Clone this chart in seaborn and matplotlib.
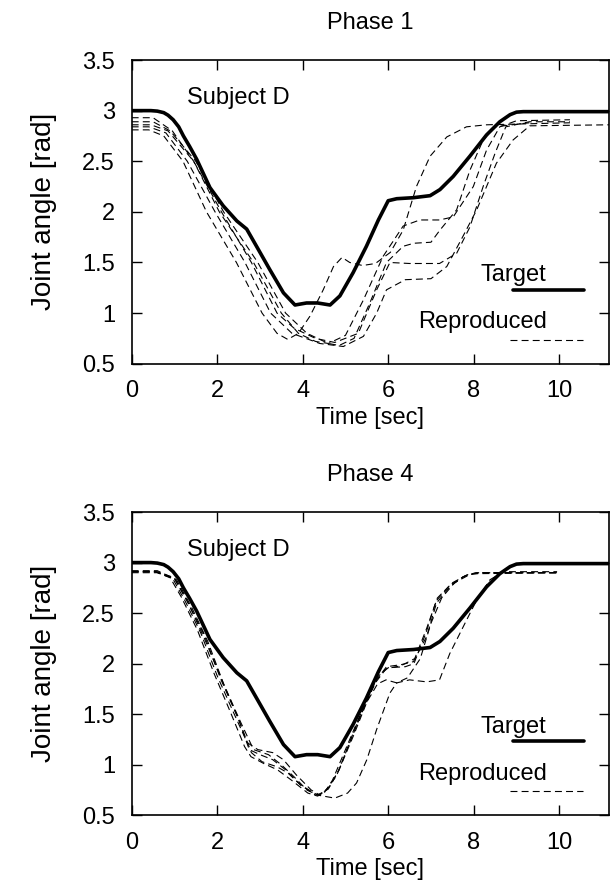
import numpy as np
import pandas as pd
import matplotlib
matplotlib.use("Agg")
import matplotlib.pyplot as plt
import seaborn as sns

# ---------------- data ----------------
target_t = [0, 0.45, 0.6, 0.75, 0.85, 0.97, 1.1, 1.21, 1.35, 1.52, 1.83, 2.14, 2.46, 2.69,
            2.92, 3.23, 3.55, 3.82, 4.09, 4.35, 4.64, 4.87, 5.18, 5.49, 5.77, 6.0, 6.2,
            6.59, 6.98, 7.21, 7.52, 7.91, 8.3, 8.61, 8.85, 9.0, 9.16, 11.17]
target_y = [3.0, 3.0, 2.995, 2.98, 2.955, 2.91, 2.84, 2.75, 2.65, 2.52, 2.24, 2.06, 1.91,
            1.83, 1.66, 1.43, 1.20, 1.08, 1.10, 1.10, 1.08, 1.17, 1.40, 1.66, 1.92, 2.11,
            2.13, 2.14, 2.16, 2.22, 2.35, 2.55, 2.76, 2.89, 2.96, 2.985, 2.99, 2.99]

# Phase 1 reproduced trials
p1_a_t = [0, 0.4, 0.75, 1.2, 1.75, 2.45, 3.05, 3.4, 3.65, 3.9, 4.17, 4.48, 4.72, 4.92, 5.1,
          5.4, 5.7, 6.05, 6.35, 6.66, 6.98, 7.37, 7.83, 8.3, 10.25]
p1_a_y = [2.81, 2.81, 2.75, 2.5, 2.0, 1.5, 1.0, 0.8, 0.74, 0.8, 0.97, 1.23, 1.46, 1.55, 1.50,
          1.47, 1.49, 1.60, 1.82, 2.25, 2.55, 2.74, 2.84, 2.86, 2.88]
p1_b_t = [0, 0.5, 0.95, 1.45, 2.05, 2.85, 3.5, 3.9, 4.3, 4.6, 5.0, 5.42, 5.88, 6.35, 6.74,
          7.2, 7.52, 7.99, 8.3, 8.61, 9.0, 10.25]
p1_b_y = [2.93, 2.93, 2.8, 2.5, 2.0, 1.5, 1.0, 0.8, 0.72, 0.70, 0.78, 1.13, 1.56, 1.86, 1.92,
          1.92, 1.95, 2.25, 2.61, 2.84, 2.90, 2.91]
p1_c_t = [0, 0.5, 0.9, 1.5, 2.15, 2.95, 3.6, 4.1, 4.6, 4.85, 5.2, 5.57, 5.96, 6.35, 6.6,
          7.0, 7.21, 7.6, 7.91, 8.22, 8.5, 9.3]
p1_c_y = [2.89, 2.89, 2.8, 2.5, 2.0, 1.5, 1.0, 0.8, 0.70, 0.68, 0.75, 1.10, 1.50, 1.66, 1.69,
          1.70, 1.82, 2.02, 2.41, 2.71, 2.84, 2.88]
p1_d_t = [0, 0.45, 0.85, 1.45, 2.1, 2.8, 3.4, 3.8, 4.3, 4.75, 5.3, 5.73, 6.04, 6.5, 7.2,
          7.6, 7.91, 8.22, 8.5, 8.75, 9.3, 10.25]
p1_d_y = [2.86, 2.86, 2.8, 2.5, 2.0, 1.5, 1.0, 0.85, 0.75, 0.71, 0.8, 1.23, 1.50, 1.49, 1.49,
          1.59, 1.85, 2.25, 2.58, 2.84, 2.89, 2.89]
p1_e_t = [0, 0.4, 0.8, 1.3, 1.95, 2.65, 3.25, 3.75, 4.4, 4.95, 5.42, 5.73, 5.96, 6.4, 7.0,
          7.37, 7.75, 8.07, 8.53, 8.92, 9.31, 11.17]
p1_e_y = [2.84, 2.84, 2.78, 2.5, 2.0, 1.5, 1.0, 0.8, 0.70, 0.67, 0.77, 1.0, 1.23, 1.33, 1.34,
          1.46, 1.76, 2.02, 2.48, 2.71, 2.85, 2.86]

# Phase 4 reproduced trials
p4_a_t = [0, 0.55, 0.9, 1.16, 1.54, 1.93, 2.32, 2.64, 2.79, 3.1, 3.41, 3.73, 4.12, 4.35,
          4.55, 4.79, 5.1, 5.42, 5.73, 5.96, 6.3, 6.59, 6.9, 7.13, 7.44, 7.75, 7.99, 9.95]
p4_a_y = [2.91, 2.91, 2.85, 2.66, 2.33, 1.90, 1.51, 1.18, 1.08, 1.01, 0.95, 0.85, 0.72, 0.69,
          0.75, 0.89, 1.22, 1.55, 1.84, 1.97, 1.99, 2.02, 2.27, 2.6, 2.76, 2.86, 2.89, 2.90]
p4_b_t = [0, 0.55, 0.95, 1.25, 1.62, 2.0, 2.4, 2.7, 2.95, 3.3, 3.55, 3.85, 4.2, 4.4, 4.62,
          4.85, 5.15, 5.45, 5.75, 6.0, 6.4, 6.6, 6.88, 7.12, 7.45, 7.8, 8.05, 9.95]
p4_b_y = [2.91, 2.91, 2.85, 2.62, 2.30, 1.88, 1.50, 1.22, 1.15, 1.12, 1.05, 0.90, 0.75, 0.70,
          0.78, 0.95, 1.28, 1.6, 1.87, 1.96, 1.97, 2.0, 2.3, 2.62, 2.78, 2.87, 2.9, 2.90]
p4_c_t = [0, 0.6, 1.0, 1.32, 1.7, 2.08, 2.5, 2.8, 3.05, 3.4, 3.65, 3.95, 4.3, 4.5, 4.7, 5.0,
          5.35, 5.68, 5.95, 6.3, 6.62, 6.9, 7.15, 7.5, 7.85, 8.1, 9.95]
p4_c_y = [2.92, 2.92, 2.84, 2.60, 2.28, 1.85, 1.45, 1.12, 1.03, 0.98, 0.92, 0.80, 0.70, 0.72,
          0.85, 1.15, 1.50, 1.80, 1.95, 1.98, 2.05, 2.35, 2.65, 2.8, 2.88, 2.9, 2.90]
p4_d_t = [0, 0.6, 1.05, 1.4, 1.78, 2.15, 2.55, 2.85, 3.2, 3.5, 3.8, 4.1, 4.35, 4.6, 4.85,
          5.2, 5.5, 5.75, 5.95, 6.2, 6.45, 6.75, 7.0, 7.25, 7.55, 7.9, 8.2, 9.95]
p4_d_y = [2.90, 2.90, 2.83, 2.56, 2.22, 1.80, 1.42, 1.15, 1.10, 1.00, 0.88, 0.75, 0.70, 0.76,
          0.95, 1.3, 1.62, 1.80, 1.84, 1.81, 1.86, 2.05, 2.4, 2.65, 2.8, 2.88, 2.9, 2.90]
p4_e_t = [0, 0.6, 1.0, 1.3, 1.7, 2.1, 2.5, 2.75, 3.0, 3.3, 3.6, 3.95, 4.35, 4.75, 5.05, 5.26,
          5.5, 5.73, 6.04, 6.2, 6.5, 6.9, 7.2, 7.44, 7.76, 8.07, 8.38, 8.69, 9.95]
p4_e_y = [2.91, 2.91, 2.85, 2.62, 2.25, 1.85, 1.45, 1.15, 1.10, 1.05, 0.95, 0.80, 0.70, 0.67,
          0.72, 0.82, 1.05, 1.35, 1.71, 1.81, 1.84, 1.82, 1.84, 2.10, 2.37, 2.63, 2.83, 2.91, 2.91]

phase_titles = ["Phase 1", "Phase 4"]
subject_label = "Subject D"
x_ticks = [0, 2, 4, 6, 8, 10]
y_ticks = [0.5, 1, 1.5, 2, 2.5, 3, 3.5]
y_tick_labels = ["0.5", "1", "1.5", "2", "2.5", "3", "3.5"]

phase_trials = [
    [(p1_a_t, p1_a_y), (p1_b_t, p1_b_y), (p1_c_t, p1_c_y), (p1_d_t, p1_d_y), (p1_e_t, p1_e_y)],
    [(p4_a_t, p4_a_y), (p4_b_t, p4_b_y), (p4_c_t, p4_c_y), (p4_d_t, p4_d_y), (p4_e_t, p4_e_y)],
]

# ---------------- style ----------------
sns.set_style("ticks")
plt.rcParams["font.family"] = ["Liberation Sans", "DejaVu Sans"]
plt.rcParams["font.size"] = 17
plt.rcParams["text.color"] = "black"
plt.rcParams["axes.labelcolor"] = "black"
plt.rcParams["xtick.color"] = "black"
plt.rcParams["ytick.color"] = "black"
plt.rcParams["lines.scale_dashes"] = False

fig = plt.figure(figsize=(6.13, 8.93), dpi=100)
axes = [fig.add_axes([0.2148, 0.5927, 0.7791, 0.3401]),
        fig.add_axes([0.2148, 0.0870, 0.7791, 0.3396])]

for ax, title, trials in zip(axes, phase_titles, phase_trials):
    for i, (tt, yy) in enumerate(trials):
        df = pd.DataFrame({"Time": tt, "Angle": yy})
        sns.lineplot(data=df, x="Time", y="Angle", ax=ax, color="black",
                     linewidth=0.8, linestyle=(0, (5, 3)), sort=False,
                     estimator=None)
    df_t = pd.DataFrame({"Time": target_t, "Angle": target_y})
    sns.lineplot(data=df_t, x="Time", y="Angle", ax=ax, color="black",
                 linewidth=2.6, sort=False, estimator=None)

    ax.set_xlim(0, 11.17)
    ax.set_ylim(0.5, 3.5)
    ax.set_xticks(x_ticks)
    ax.set_yticks(y_ticks)
    ax.set_yticklabels(y_tick_labels)
    ax.tick_params(direction="in", top=True, right=True, length=7, width=1.0,
                   labelsize=17, pad=12, colors="black", labelcolor="black")
    for sp in ax.spines.values():
        sp.set_linewidth(1.2)
        sp.set_color("black")
    ax.set_title(title, fontsize=17, pad=22, color="black")
    ax.set_xlabel("Time [sec]", fontsize=17, labelpad=3, color="black")
    ax.set_ylabel("Joint angle [rad]", fontsize=20, labelpad=18, color="black")

    ax.text(0.116, 0.854, subject_label, transform=ax.transAxes, fontsize=17,
            ha="left", va="baseline", color="black")
    ax.text(0.869, 0.272, "Target", transform=ax.transAxes, fontsize=17,
            ha="right", va="baseline", color="black")
    ax.plot([0.798, 0.947], [0.244, 0.244], transform=ax.transAxes, color="black",
            linewidth=2.6)
    ax.text(0.869, 0.117, "Reproduced", transform=ax.transAxes, fontsize=17,
            ha="right", va="baseline", color="black")
    ax.plot([0.792, 0.945], [0.079, 0.079], transform=ax.transAxes, color="black",
            linewidth=0.8, linestyle=(0, (5, 3)))

fig.savefig("out.png", dpi=100)
